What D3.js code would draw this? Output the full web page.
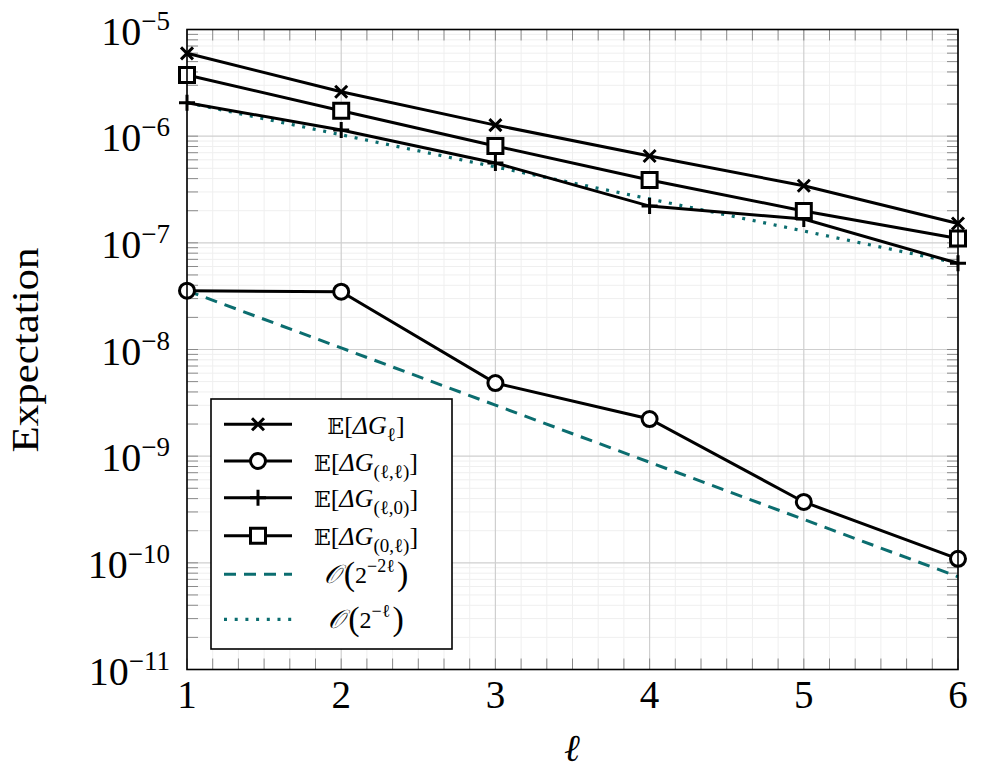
<!DOCTYPE html>
<html><head><meta charset="utf-8">
<script src="https://cdn.jsdelivr.net/npm/d3@7"></script>
<style>
html,body{margin:0;padding:0;background:#fff;}
text{font-family:"Liberation Serif","DejaVu Serif",serif;fill:#000;}
</style></head>
<body><svg id="chart" width="995" height="777"></svg>
<script>
const levels = [1, 2, 3, 4, 5, 6];
const meanDeltaG   = [5.98e-6, 2.61e-6, 1.27e-6, 6.52e-7, 3.43e-7, 1.52e-7];
const meanDeltaGLL = [3.56e-8, 3.48e-8, 4.85e-9, 2.23e-9, 3.72e-10, 1.09e-10];
const meanDeltaGL0 = [2.06e-6, 1.14e-6, 5.60e-7, 2.21e-7, 1.67e-7, 6.43e-8];
const meanDeltaG0L = [3.74e-6, 1.73e-6, 8.09e-7, 3.88e-7, 1.99e-7, 1.10e-7];
const rateQuadratic = [3.56e-8, 1.035e-8, 3.01e-9, 8.77e-10, 2.55e-10, 7.41e-11];
const rateLinear    = [2.06e-6, 1.03e-6, 5.15e-7, 2.58e-7, 1.29e-7, 6.44e-8];
const xTickLabels = ["1", "2", "3", "4", "5", "6"];
const yTickExponents = [-5, -6, -7, -8, -9, -10, -11];

const svg = d3.select("#chart");
const L = 187, R = 958, T = 29.5, B = 669.5;
const x = d3.scaleLinear().domain([1, 6]).range([L, R]);
const y = d3.scaleLog().domain([1e-11, 1e-5]).range([B, T]);
const teal = "#0b6d6f";
const LW = 3;

// minor grid
const gMinor = svg.append("g").attr("stroke", "#efefef").attr("stroke-width", 1);
const xMinor = [];
for (let i = 1; i < 6; i++) for (let k = 1; k < 6; k++) xMinor.push(i + k / 6);
const yMinor = [];
for (let e = -11; e < -5; e++) for (let k = 2; k <= 9; k++) yMinor.push(k * Math.pow(10, e));
gMinor.selectAll("line.xm").data(xMinor).join("line").attr("x1", d => x(d)).attr("x2", d => x(d)).attr("y1", T).attr("y2", B);
gMinor.selectAll("line.ym").data(yMinor).join("line").attr("y1", d => y(d)).attr("y2", d => y(d)).attr("x1", L).attr("x2", R);

// major grid
const gMajor = svg.append("g").attr("stroke", "#cfcfcf").attr("stroke-width", 1.2);
gMajor.selectAll("line.xg").data(levels).join("line").attr("x1", d => x(d)).attr("x2", d => x(d)).attr("y1", T).attr("y2", B);
gMajor.selectAll("line.yg").data(yTickExponents).join("line").attr("y1", d => y(Math.pow(10, d))).attr("y2", d => y(Math.pow(10, d))).attr("x1", L).attr("x2", R);

// ticks (inward, all sides)
const gT = svg.append("g").attr("stroke", "#8a8a8a").attr("stroke-width", 1);
const tl = 11;
xMinor.concat(levels).forEach(v => {
  gT.append("line").attr("x1", x(v)).attr("x2", x(v)).attr("y1", B).attr("y2", B - tl);
  gT.append("line").attr("x1", x(v)).attr("x2", x(v)).attr("y1", T).attr("y2", T + tl);
});
yMinor.concat(yTickExponents.map(e => Math.pow(10, e))).forEach(v => {
  gT.append("line").attr("y1", y(v)).attr("y2", y(v)).attr("x1", L).attr("x2", L + tl);
  gT.append("line").attr("y1", y(v)).attr("y2", y(v)).attr("x1", R).attr("x2", R - tl);
});

// tick labels
svg.append("g").selectAll("text").data(levels).join("text")
  .attr("x", d => x(d)).attr("y", 708).attr("text-anchor", "middle")
  .attr("font-size", 39).text((d, i) => xTickLabels[i]);
const yl = svg.append("g").selectAll("text").data(yTickExponents).join("text")
  .attr("x", 170).attr("y", d => y(Math.pow(10, d)) + 15).attr("text-anchor", "end")
  .attr("font-size", 40);
yl.append("tspan").text("10");
yl.append("tspan").attr("font-size", 27).attr("dy", -15).text(d => "\u2212" + Math.abs(d));

// axis labels
svg.append("text").attr("transform", "translate(38,350) rotate(-90)").attr("text-anchor", "middle")
  .attr("font-size", 38).attr("textLength", 205).attr("lengthAdjust", "spacingAndGlyphs").text("Expectation");
svg.append("text").attr("x", 572).attr("y", 761).attr("text-anchor", "middle")
  .attr("font-size", 38).attr("font-style", "italic").text("\u2113");

// reference rate lines
const line = d3.line().x((d, i) => x(levels[i])).y(d => y(d));
svg.append("path").attr("d", line(rateQuadratic)).attr("fill", "none").attr("stroke", teal)
  .attr("stroke-width", 3).attr("stroke-dasharray", "12,8");
svg.append("path").attr("d", line(rateLinear)).attr("fill", "none").attr("stroke", teal)
  .attr("stroke-width", 3.2).attr("stroke-dasharray", "3,7.7");

// markers
function markerPath(type, cx, cy) {
  if (type === "x") { const s = 6; return `M${cx-s},${cy-s}L${cx+s},${cy+s}M${cx-s},${cy+s}L${cx+s},${cy-s}`; }
  if (type === "+") { const s = 8; return `M${cx-s},${cy}L${cx+s},${cy}M${cx},${cy-s}L${cx},${cy+s}`; }
  if (type === "s") { const s = 7.5; return `M${cx-s},${cy-s}H${cx+s}V${cy+s}H${cx-s}Z`; }
  if (type === "o") { const r = 7.5; return `M${cx+r},${cy}A${r},${r},0,1,1,${cx-r},${cy}A${r},${r},0,1,1,${cx+r},${cy}Z`; }
}
const seriesList = [
  {vals: meanDeltaGL0, m: "+"},
  {vals: meanDeltaG0L, m: "s"},
  {vals: meanDeltaG, m: "x"},
  {vals: meanDeltaGLL, m: "o"}
];
seriesList.forEach(s => {
  svg.append("path").attr("d", line(s.vals)).attr("fill", "none").attr("stroke", "#000").attr("stroke-width", LW);
  svg.append("g").selectAll("path").data(s.vals).join("path")
    .attr("d", (d, i) => markerPath(s.m, x(levels[i]), y(d)))
    .attr("fill", (s.m === "s" || s.m === "o") ? "#fff" : "none")
    .attr("stroke", "#000").attr("stroke-width", LW);
});

// frame
svg.append("rect").attr("x", L).attr("y", T).attr("width", R - L).attr("height", B - T)
  .attr("fill", "none").attr("stroke", "#000").attr("stroke-width", 1.6);

// legend
const lg = svg.append("g");
lg.append("rect").attr("x", 211).attr("y", 399).attr("width", 241).attr("height", 250)
  .attr("fill", "#fff").attr("stroke", "#000").attr("stroke-width", 1.6);
const legendItems = [
  {y: 424.3, m: "x", sub: "\u2113"},
  {y: 461, m: "o", sub: "(\u2113,\u2113)"},
  {y: 497.7, m: "+", sub: "(\u2113,0)"},
  {y: 535.7, m: "s", sub: "(0,\u2113)"}
];
legendItems.forEach(it => {
  lg.append("line").attr("x1", 224).attr("x2", 292).attr("y1", it.y).attr("y2", it.y).attr("stroke", "#000").attr("stroke-width", LW);
  lg.append("path").attr("d", markerPath(it.m, 258, it.y)).attr("fill", (it.m === "s" || it.m === "o") ? "#fff" : "none")
    .attr("stroke", "#000").attr("stroke-width", LW);
  const t = lg.append("text").attr("x", 366).attr("y", it.y + 9.5).attr("text-anchor", "middle").attr("font-size", 26);
  t.append("tspan").attr("font-family", "DejaVu Serif").attr("font-size", 22).text("\uD835\uDD3C");
  t.append("tspan").text("[");
  t.append("tspan").attr("font-style", "italic").text("\u0394G");
  t.append("tspan").attr("font-size", 19).attr("dy", 7).text(it.sub);
  t.append("tspan").attr("dy", -7).text("]");
});
const rateItems = [
  {y: 574.3, dash: "12,8", w: 3, exp: "\u22122\u2113"},
  {y: 619.3, dash: "3,7.7", w: 3.2, exp: "\u2212\u2113"}
];
rateItems.forEach(it => {
  lg.append("line").attr("x1", 224).attr("x2", 292).attr("y1", it.y).attr("y2", it.y).attr("stroke", teal)
    .attr("stroke-width", it.w).attr("stroke-dasharray", it.dash);
  const t = lg.append("text").attr("x", 366).attr("y", it.y + 9).attr("text-anchor", "middle").attr("font-size", 26);
  t.append("tspan").attr("font-style", "italic").text("\uD835\uDCAA");
  t.append("tspan").attr("font-size", 34).attr("dx", 4).attr("dy", 2).text("(");
  t.append("tspan").attr("font-size", 24).attr("dy", -2).text("2");
  t.append("tspan").attr("font-size", 18).attr("dy", -11).text(it.exp);
  t.append("tspan").attr("font-size", 34).attr("dx", 2).attr("dy", 13).text(")");
});
</script></body></html>
